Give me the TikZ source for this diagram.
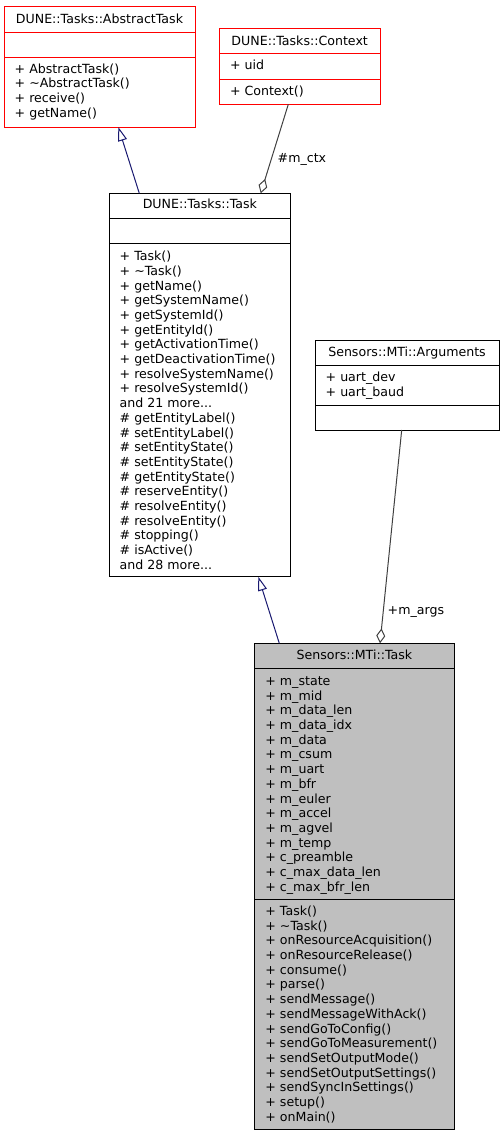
\documentclass[tikz,border=0pt]{standalone}
\usepackage{fontspec}
\setmainfont{DejaVu Sans}
\usetikzlibrary{arrows.meta,calc}
\newcommand{\dfs}{\fontsize{12.6}{14.7}\selectfont}
\definecolor{edgeblue}{HTML}{191970}
\definecolor{edgegray}{HTML}{404040}
\definecolor{boxgray}{HTML}{BFBFBF}
\begin{document}
\begin{tikzpicture}[x=1pt,y=-1pt,
  cls/.style={draw=#1, line width=1pt, anchor=north west, inner sep=0, outer sep=0},
  ttl/.style={anchor=base, inner sep=0, font=\dfs},
  txt/.style={anchor=north west, inner sep=0, align=left, font=\dfs},
  inh/.style={draw=edgeblue, line width=1pt, -{Triangle[open, length=14pt, width=9pt, line width=1pt]}},
  agg/.style={draw=edgegray, line width=1pt, -{Diamond[open, length=15pt, width=9pt, line width=1pt]}},
  lbl/.style={anchor=base west, inner sep=0, font=\dfs}]
\useasboundingbox (0,0) rectangle (503,1136);

% DUNE::Tasks::AbstractTask
\node[cls=red, minimum width=191pt, minimum height=121pt] (abs) at (4,6) {};
\draw[red, line width=1pt] (4,32.3) -- (195,32.3) (4,57.3) -- (195,57.3);
\node[ttl] (absT) at (99.5,23.5) {DUNE::Tasks::AbstractTask};
\node[txt] (absM) at (14.5,62.7) {\strut+ AbstractTask()\\\strut+ \textasciitilde AbstractTask()\\\strut+ receive()\\\strut+ getName()};

% DUNE::Tasks::Context
\node[cls=red, minimum width=160.7pt, minimum height=75.6pt] (ctx) at (219.3,28.7) {};
\draw[red, line width=1pt] (219.3,53.7) -- (380,53.7) (219.3,79.3) -- (380,79.3);
\node[ttl] (ctxT) at (299.7,45.3) {DUNE::Tasks::Context};
\node[txt] (ctxA) at (229.8,59.2) {\strut+ uid};
\node[txt] (ctxM) at (229.8,84.9) {\strut+ Context()};

% DUNE::Tasks::Task
\node[cls=black, minimum width=181.7pt, minimum height=383.4pt] (task) at (109,193.3) {};
\draw[black, line width=1pt] (109,218.3) -- (290.7,218.3) (109,243.3) -- (290.7,243.3);
\node[ttl] (taskT) at (199.9,208.8) {DUNE::Tasks::Task};
\node[txt] (taskM) at (119.5,250.2) {\strut+ Task()\\\strut+ \textasciitilde Task()\\\strut+ getName()\\\strut+ getSystemName()\\\strut+ getSystemId()\\\strut+ getEntityId()\\\strut+ getActivationTime()\\\strut+ getDeactivationTime()\\\strut+ resolveSystemName()\\\strut+ resolveSystemId()\\\strut and 21 more...\\\strut\# getEntityLabel()\\\strut\# setEntityLabel()\\\strut\# setEntityState()\\\strut\# setEntityState()\\\strut\# getEntityState()\\\strut\# reserveEntity()\\\strut\# resolveEntity()\\\strut\# resolveEntity()\\\strut\# stopping()\\\strut\# isActive()\\\strut and 28 more...};

% Sensors::MTi::Arguments
\node[cls=black, minimum width=184pt, minimum height=90pt] (args) at (315,340) {};
\draw[black, line width=1pt] (315,365) -- (499,365) (315,405.7) -- (499,405.7);
\node[ttl] (argsT) at (407,356.2) {Sensors::MTi::Arguments};
\node[txt] (argsA) at (325.5,370.9) {\strut+ uart\_dev\\\strut+ uart\_baud};

% Sensors::MTi::Task
\node[cls=black, fill=boxgray, minimum width=199.3pt, minimum height=486pt] (mti) at (254.7,643.3) {};
\draw[black, line width=1pt] (254.7,668.3) -- (454,668.3) (254.7,899.3) -- (454,899.3);
\node[ttl] (mtiT) at (354.4,659.5) {Sensors::MTi::Task};
\node[txt] (mtiA) at (265.2,674.9) {\strut+ m\_state\\\strut+ m\_mid\\\strut+ m\_data\_len\\\strut+ m\_data\_idx\\\strut+ m\_data\\\strut+ m\_csum\\\strut+ m\_uart\\\strut+ m\_bfr\\\strut+ m\_euler\\\strut+ m\_accel\\\strut+ m\_agvel\\\strut+ m\_temp\\\strut+ c\_preamble\\\strut+ c\_max\_data\_len\\\strut+ c\_max\_bfr\_len};
\node[txt] (mtiM) at (265.2,904.9) {\strut+ Task()\\\strut+ \textasciitilde Task()\\\strut+ onResourceAcquisition()\\\strut+ onResourceRelease()\\\strut+ consume()\\\strut+ parse()\\\strut+ sendMessage()\\\strut+ sendMessageWithAck()\\\strut+ sendGoToConfig()\\\strut+ sendGoToMeasurement()\\\strut+ sendSetOutputMode()\\\strut+ sendSetOutputSettings()\\\strut+ sendSyncInSettings()\\\strut+ setup()\\\strut+ onMain()};

% connectors
\draw[inh] ($(task.north west)+(30.3,0)$) -- ($(abs.south west)+(114.3,0)$);
\draw[inh] ($(mti.north west)+(24.6,0)$) -- ($(task.south west)+(149.3,0)$);
\draw[agg] ($(ctx.south west)+(69,0)$) -- ($(task.north west)+(151.7,0)$);
\draw[agg] ($(args.south west)+(86.7,0)$) -- ($(mti.north west)+(125.3,0)$);
\node[lbl] (lctx) at (277.5,162.5) {\#m\_ctx};
\node[lbl] (largs) at (387.5,614.5) {+m\_args};
\end{tikzpicture}
\end{document}
